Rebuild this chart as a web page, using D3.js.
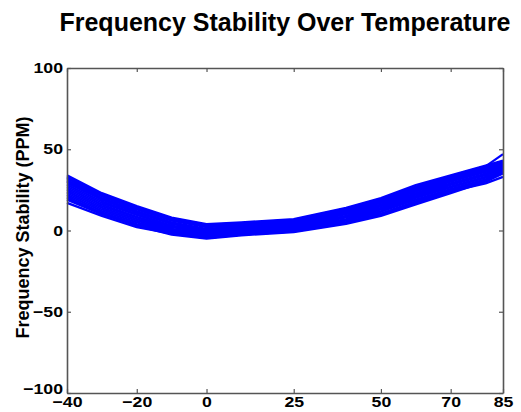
<!DOCTYPE html>
<html>
<head>
<meta charset="utf-8">
<script src="https://cdn.jsdelivr.net/npm/d3@7"></script>
<style>
  body { margin: 0; background: #fff; }
  svg text { font-family: "Liberation Sans", Arial, sans-serif; font-weight: bold; }
</style>
</head>
<body>
<svg id="chart"></svg>
<script>
// Temperatures (deg C) where each unit was measured
const temps = [-40, -30, -20, -10, 0, 10, 25, 40, 50, 60, 70, 80, 85];

// One row per unit, frequency deviation in PPM
const units = [
  [34, 23, 15, 8, 4, 5, 7, 14, 20, 28, 34, 40, 43],
  [33, 22.5, 14.5, 7.5, 3.5, 4.5, 6.5, 13.5, 19.5, 27, 33.5, 39.5, 47],
  [32.5, 22, 14, 7, 3, 4, 6, 13, 19, 26.5, 33, 39, 42.5],
  [32, 21.5, 13.5, 6.5, 2.5, 3.5, 5.5, 12.5, 18.5, 26, 32.5, 38.5, 42],
  [31, 21, 13, 6, 2, 3, 5, 12, 18, 25.5, 32, 38, 41.5],
  [30.5, 20, 12, 5, 1, 2.5, 4.5, 11.5, 17.5, 25, 31.5, 37.5, 41],
  [30, 19.5, 11.5, 4.5, 0.5, 2, 4, 11, 17, 24.5, 31, 37, 40.5],
  [29, 19, 11, 4, 0, 1.5, 3.5, 10.5, 16, 24, 30.5, 36.5, 40],
  [28, 18, 10, 3, -0.5, 1, 3, 10, 15.5, 23, 30, 36, 39.5],
  [27, 17, 9.5, 2.5, -1, 0.5, 2.5, 9, 15, 22.5, 29, 35, 39],
  [26, 16, 8.5, 2, -1.5, 0, 2, 8.5, 14, 22, 28.5, 34.5, 38.5],
  [25, 15, 8, 1, -2, -0.5, 1.5, 8, 13.5, 21, 28, 34, 38],
  [24, 14, 7, 0.5, -2.5, -1, 1, 7, 13, 20.5, 27, 33, 37],
  [23, 13, 6, 0, -3, -1.5, 0.5, 6.5, 12, 20, 26.5, 32.5, 37],
  [22, 12, 5, -0.5, -3.5, -2, 0, 6, 11.5, 19, 25.5, 31.5, 36.5],
  [21, 11, 4, -1, -4, -2.5, -0.5, 5, 10.5, 18, 25, 31, 36],
  [20, 10.5, 3.5, -2, -4.5, -2.5, -0.5, 4.5, 10, 17, 24, 30.5, 35.5],
  [19, 10, 3, -2.5, -5, -3, -1, 4, 9, 16, 23, 30, 35],
  [17, 9, 2, -2, -4.5, -2.5, 0, 5, 10, 17, 24, 29, 33]
];

const xTicks = [-40, -20, 0, 25, 50, 70, 85];
const yTicks = [-100, -50, 0, 50, 100];

const width = 521, height = 412;
const margin = { top: 68, right: 18, bottom: 19, left: 67 };

const svg = d3.select("#chart")
    .attr("width", width)
    .attr("height", height);

const x = d3.scaleLinear().domain([-40, 85]).range([margin.left, width - margin.right]);
const y = d3.scaleLinear().domain([-100, 100]).range([height - margin.bottom, margin.top]);

const axisColor = "#555";

// curves first, the box sits on top
const line = d3.line()
    .x((d, i) => x(temps[i]))
    .y(d => y(d));

svg.append("g")
    .selectAll("path")
    .data(units)
    .join("path")
    .attr("d", line)
    .attr("fill", "none")
    .attr("stroke", "#0000ff")
    .attr("stroke-width", 2.2)
    .attr("stroke-linejoin", "round");

// bottom axis, ticks pointing inward
const xAxis = svg.append("g")
    .attr("transform", `translate(0,${y(-100)})`)
    .call(d3.axisBottom(x).tickValues(xTicks).tickSizeInner(-4).tickSizeOuter(0).tickPadding(4));
// top axis ticks only
const xTop = svg.append("g")
    .attr("transform", `translate(0,${y(100)})`)
    .call(d3.axisTop(x).tickValues(xTicks).tickSizeInner(-4).tickSizeOuter(0).tickFormat(""));

const yAxis = svg.append("g")
    .attr("transform", `translate(${x(-40)},0)`)
    .call(d3.axisLeft(y).tickValues(yTicks).tickSizeInner(-4).tickSizeOuter(0).tickPadding(4));
const yRight = svg.append("g")
    .attr("transform", `translate(${x(85)},0)`)
    .call(d3.axisRight(y).tickValues(yTicks).tickSizeInner(-4).tickSizeOuter(0).tickFormat(""));

[xAxis, xTop, yAxis, yRight].forEach(g => {
    g.select(".domain").attr("stroke", axisColor).attr("stroke-width", 1.6);
    g.selectAll(".tick line").attr("stroke", axisColor).attr("stroke-width", 1.2);
    g.selectAll(".tick text")
        .attr("fill", "#000")
        .attr("font-size", "15px")
        .attr("font-family", "Liberation Sans, Arial, sans-serif")
        .attr("font-weight", "bold");
});

// the original glyphs are a bit wider than Arial, stretch them sideways
yAxis.selectAll(".tick text")
    .attr("x", null)
    .attr("dy", d => d === -100 ? "0.05em" : "0.3em")
    .attr("transform", "translate(-4,0) scale(1.18,1)");
xAxis.selectAll(".tick text")
    .attr("dy", "0.7em")
    .attr("transform", "scale(1.18,1)");

// title
svg.append("text")
    .attr("x", (x(-40) + x(85)) / 2)
    .attr("y", 31)
    .attr("text-anchor", "middle")
    .attr("font-size", "25px")
    .attr("fill", "#000")
    .text("Frequency Stability Over Temperature");

// y axis label
svg.append("text")
    .attr("transform", `translate(29,${(y(100) + y(-100)) / 2 - 3}) rotate(-90)`)
    .attr("text-anchor", "middle")
    .attr("font-size", "18px")
    .attr("fill", "#000")
    .text("Frequency Stability (PPM)");
</script>
</body>
</html>
